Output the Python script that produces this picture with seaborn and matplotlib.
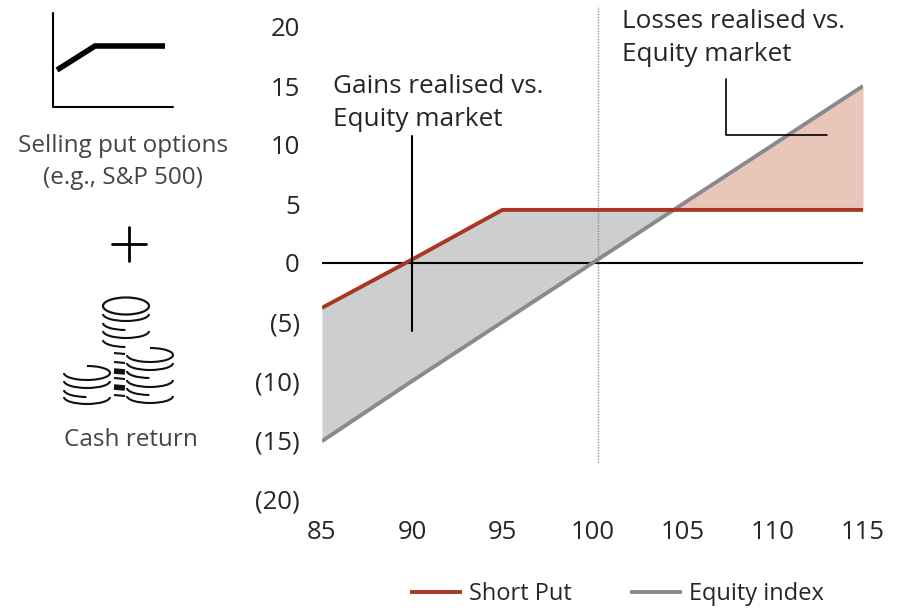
import matplotlib
matplotlib.use('Agg')
import matplotlib.pyplot as plt
from matplotlib.patches import Arc, Ellipse
import pandas as pd
import seaborn as sns

sns.set_theme(style='white')
plt.rcParams['font.family'] = ['Open Sans', 'DejaVu Sans']

# chart data
strike = [85, 90, 95, 100, 105, 110, 115]
short_put = [-3.8, 0.3, 4.5, 4.5, 4.5, 4.5, 4.5]
equity = [-15.1, -10, -5, 0, 5, 10, 15]
y_ticks = [20, 15, 10, 5, 0, -5, -10, -15, -20]
y_labels = ['20', '15', '10', '5', '0', '(5)', '(10)', '(15)', '(20)']

RED = '#A93522'
GREY = '#8A8A8C'
TXT = '#262626'
W, H = 905, 612

df = pd.DataFrame({'strike': strike, 'Short Put': short_put, 'Equity index': equity})

fig = plt.figure(figsize=(W / 100, H / 100), dpi=100)
ax = fig.add_axes([322 / W, 1 - 499 / H, (863 - 322) / W, (499 - 27) / H])

ax.fill_between(df['strike'], df['Short Put'], df['Equity index'],
                where=df['Short Put'] >= df['Equity index'], interpolate=True,
                color='#CDCED0', lw=0)
ax.fill_between(df['strike'], df['Short Put'], df['Equity index'],
                where=df['Short Put'] <= df['Equity index'], interpolate=True,
                color='#E9C5BA', lw=0)

ax.axhline(0, color='black', lw=1.5, zorder=2)
sns.lineplot(data=df, x='strike', y='Equity index', color=GREY, lw=2.8, ax=ax,
             label='Equity index', zorder=3, solid_capstyle='butt')
sns.lineplot(data=df, x='strike', y='Short Put', color=RED, lw=2.8, ax=ax,
             label='Short Put', zorder=4, solid_capstyle='butt')

# dotted line at 100 and callouts
ax.plot([100.3, 100.3], [-16.9, 21.8], color='#8f8f8f', lw=1, ls=(0, (1, 1)), clip_on=False)
ax.plot([90, 90], [-5.8, 10.8], color='black', lw=1.5, zorder=5)
ax.plot([107.4, 107.4, 113], [15.6, 10.85, 10.85], color='black', lw=1.2, zorder=5)
ax.text(85.6, 13.55, 'Gains realised vs.\nEquity market', fontsize=18.8, color=TXT,
        va='center', ha='left', linespacing=1.42)
ax.text(101.64, 19.05, 'Losses realised vs.\nEquity market', fontsize=18.8, color=TXT,
        va='center', ha='left', linespacing=1.42)

ax.set_xlim(85, 115)
ax.set_ylim(-20, 20)
ax.set_xticks(strike)
ax.set_yticks(y_ticks)
ax.set_yticklabels(y_labels)
ax.set_xlabel('')
ax.set_ylabel('')
ax.tick_params(axis='x', length=0, pad=15, labelsize=18.5, labelcolor=TXT)
ax.tick_params(axis='y', length=0, pad=16, labelsize=18.5, labelcolor=TXT)
sns.despine(ax=ax, left=True, bottom=True, top=True, right=True)
ax.patch.set_alpha(0)

handles, labels = ax.get_legend_handles_labels()
order = [labels.index('Short Put'), labels.index('Equity index')]
ax.get_legend().remove()
fig.legend([handles[i] for i in order], [labels[i] for i in order], loc='center',
           bbox_to_anchor=(617 / W, 1 - 594 / H), ncol=2, frameon=False, fontsize=17,
           handlelength=2.2, handletextpad=0.3, columnspacing=2.5,
           labelcolor=TXT)

# left hand icons, drawn in pixel space
icon = fig.add_axes([0, 0, 1, 1], zorder=-1)
icon.set_xlim(0, W)
icon.set_ylim(H, 0)
icon.axis('off')

icon.plot([53, 53, 173], [13, 107, 107], color='black', lw=1.5)
icon.plot([57, 95, 165], [70, 46, 46], color='black', lw=4, solid_joinstyle='miter',
          solid_capstyle='butt')
icon.text(123, 146, 'Selling put options', fontsize=17.5, color='#444444', ha='center', va='center')
icon.text(123, 178, '(e.g., S&P 500)', fontsize=17.5, color='#444444', ha='center', va='center')
icon.plot([112, 146], [244, 244], color='black', lw=2)
icon.plot([129, 129], [227, 261], color='black', lw=2)
icon.text(131, 440, 'Cash return', fontsize=17.5, color='#444444', ha='center', va='center')


def coin(cx, bottom, t1=0, t2=180):
    icon.add_patch(Arc((cx, bottom - 7), 46, 14, theta1=t1, theta2=t2, color='#111111', lw=1.5))


# middle stack
icon.add_patch(Ellipse((126, 306), 46, 17, fill=False, color='#111111', lw=1.6))
coin(126, 321)
coin(126, 330, 95, 180)
coin(126, 338)
coin(126, 347, 95, 180)

# right stack
coin(150, 362, -90, 180)
coin(150, 370)
coin(150, 378, 95, 180)
coin(150, 387)
coin(150, 395, 95, 180)
coin(150, 403)

# left stack
coin(87, 380, -90, 180)
coin(87, 388)
coin(87, 397, 95, 180)
coin(87, 404)

for y, lw in zip([353, 362, 371, 378, 387, 395], [1.5, 1.5, 4, 1.5, 4, 1.5]):
    icon.plot([114, 125], [y, y + 1], color='#111111', lw=lw, solid_capstyle='butt')

fig.savefig('out.png', dpi=100)
